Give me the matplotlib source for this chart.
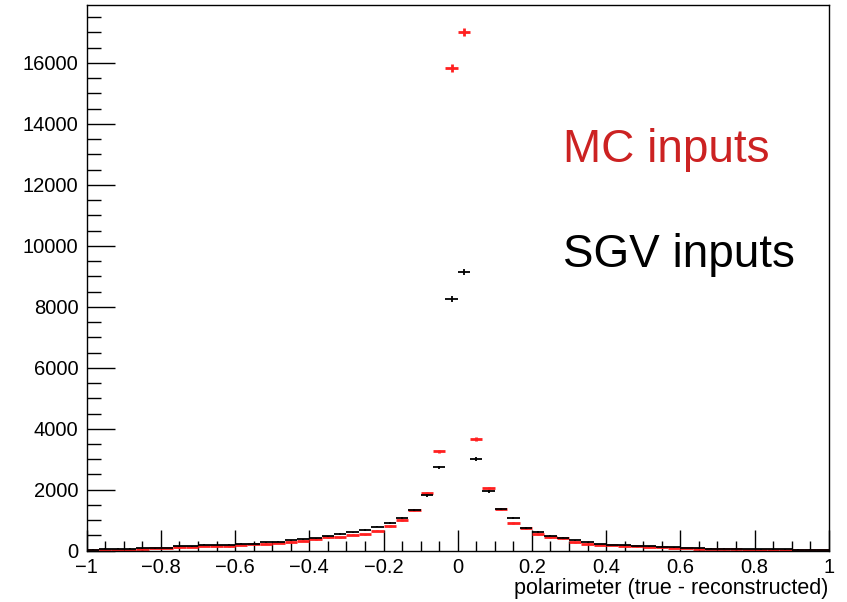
import numpy as np
import matplotlib.pyplot as plt
from matplotlib.ticker import MultipleLocator, FuncFormatter

plt.rcParams['font.family'] = ['Liberation Sans', 'DejaVu Sans']

# 60 bins between -1 and 1
n_bins = 60
edges = np.linspace(-1, 1, n_bins + 1)

sgv_counts = [35, 65, 70, 70, 75, 80, 90, 140, 150, 195,
              185, 190, 230, 235, 275, 300, 340, 370, 405, 470,
              550, 600, 670, 790, 905, 1060, 1330, 1815, 2735, 8250,
              9130, 3010, 1950, 1380, 1070, 755, 620, 490, 425, 340,
              275, 220, 185, 175, 155, 140, 130, 110, 95, 75,
              65, 65, 65, 55, 40, 40, 40, 35, 35, 30]
mc_counts = [25, 30, 30, 35, 40, 90, 95, 110, 120, 155,
             155, 150, 200, 210, 230, 260, 295, 330, 370, 440,
             440, 530, 540, 660, 800, 1000, 1340, 1890, 3260, 15840,
             17010, 3660, 2055, 1380, 910, 745, 545, 440, 405, 285,
             230, 195, 185, 155, 145, 120, 110, 100, 85, 65,
             50, 45, 45, 35, 20, 20, 20, 15, 15, 15]

centers = 0.5 * (edges[:-1] + edges[1:])
half_width = 0.5 * (edges[1] - edges[0])

fig = plt.figure(figsize=(8.47, 6.02), dpi=100)
ax = fig.add_axes([0.1024, 0.0852, 0.876, 0.9065])

mc = np.array(mc_counts, dtype=float)
sgv = np.array(sgv_counts, dtype=float)

ax.errorbar(centers, mc, xerr=half_width, yerr=np.sqrt(mc), fmt='none',
            ecolor='#ff2020', elinewidth=2.0, capsize=0, zorder=2)
ax.errorbar(centers, sgv, xerr=half_width, yerr=np.sqrt(sgv), fmt='none',
            ecolor='black', elinewidth=1.3, capsize=0, zorder=3)

ax.set_xlim(-1, 1)
ax.set_ylim(0, 17900)

ax.xaxis.set_major_locator(MultipleLocator(0.2))
ax.xaxis.set_minor_locator(MultipleLocator(0.05))
ax.yaxis.set_major_locator(MultipleLocator(2000))
ax.yaxis.set_minor_locator(MultipleLocator(500))

def fmt_x(v, pos):
    if abs(v) < 1e-9:
        return '0'
    s = ('%.1f' % v).replace('-', '\u2212')
    if s.endswith('.0'):
        s = s[:-2]
    return s

ax.xaxis.set_major_formatter(FuncFormatter(fmt_x))
ax.yaxis.set_major_formatter(FuncFormatter(lambda v, p: '%d' % v))

ax.tick_params(axis='x', which='major', direction='in', length=15, width=1,
               labelsize=14.5, pad=5)
ax.tick_params(axis='x', which='minor', direction='in', length=7.5, width=1)
ax.tick_params(axis='y', which='major', direction='in', length=20, width=1,
               labelsize=14.5, pad=6)
ax.tick_params(axis='y', which='minor', direction='in', length=10, width=1)

for sp in ax.spines.values():
    sp.set_linewidth(1)

ax.set_xlabel('polarimeter (true - reconstructed)', fontsize=15.5,
              loc='right', labelpad=1)

ax.text(0.642, 0.712, 'MC inputs', transform=ax.transAxes, color='#cc2222',
        fontsize=33, va='baseline')
ax.text(0.642, 0.52, 'SGV inputs', transform=ax.transAxes, color='black',
        fontsize=33, va='baseline')

fig.savefig('out.png', dpi=100)
